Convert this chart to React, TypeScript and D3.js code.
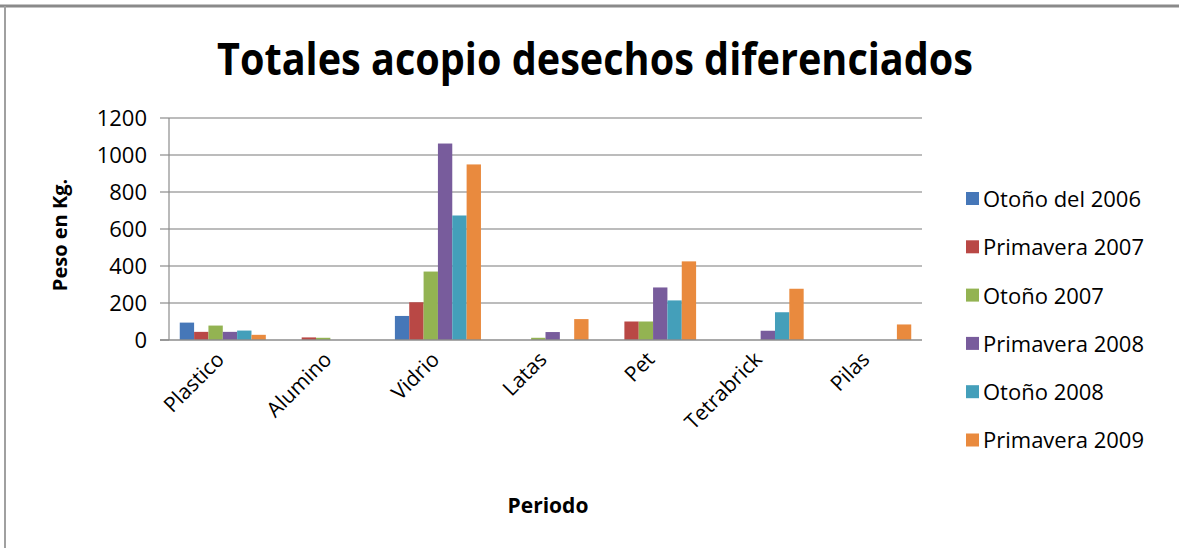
import React from 'react';
import * as d3 from 'd3';

// categorías (eje X)
const categories = ['Plastico', 'Alumino', 'Vidrio', 'Latas', 'Pet', 'Tetrabrick', 'Pilas'];

// series (kg)
const seriesNames = ['Otoño del 2006', 'Primavera 2007', 'Otoño 2007', 'Primavera 2008', 'Otoño 2008', 'Primavera 2009'];
const otono2006 = [94, 0, 130, 0, 0, 0, 0];
const primavera2007 = [44, 14, 204, 0, 100, 0, 0];
const otono2007 = [78, 12, 370, 12, 100, 0, 0];
const primavera2008 = [44, 0, 1062, 43, 284, 50, 0];
const otono2008 = [51, 0, 673, 0, 214, 150, 0];
const primavera2009 = [28, 0, 949, 113, 425, 277, 84];
const seriesValues = [otono2006, primavera2007, otono2007, primavera2008, otono2008, primavera2009];

const colors = ['#4677B8', '#B94845', '#93B352', '#785C9C', '#449FBA', '#E98A3E'];
const yTicks = [0, 200, 400, 600, 800, 1000, 1200];

const W = 1179;
const H = 548;
const plot = { left: 169, right: 922, top: 118, bottom: 340 };
const FONT = '"Open Sans", "Liberation Sans", sans-serif';

export default function App() {
  // ancho de grupo = 6 barras, hueco 150% (estilo Excel)
  const band = (plot.right - plot.left) / categories.length;
  const barW = band / (seriesNames.length + 1.5);
  const groupW = barW * seriesNames.length;

  const x0 = d3.scalePoint<string>()
    .domain(categories)
    .range([plot.left + band / 2, plot.right - band / 2]);
  const y = d3.scaleLinear().domain([0, 1200]).range([plot.bottom, plot.top]);

  const center = (c: string) => x0(c) as number;

  return (
    <svg width={W} height={H} style={{ position: 'absolute', left: 0, top: 0, background: '#fff' }}>
      {/* marco */}
      <line x1={0} x2={W} y1={6} y2={6} stroke="#8a8a8a" strokeWidth={3} />
      <line x1={5} x2={5} y1={6} y2={H} stroke="#a0a0a0" strokeWidth={2} />

      {/* título */}
      <text x={595} y={75} textAnchor="middle" fontFamily={FONT} fontWeight="bold" fontSize={44}
        textLength={756} lengthAdjust="spacingAndGlyphs" fill="#000">
        Totales acopio desechos diferenciados
      </text>

      {/* rejilla */}
      {yTicks.map(t => (
        <g key={t}>
          {t > 0 && <line x1={plot.left} x2={plot.right} y1={y(t)} y2={y(t)} stroke="#a6a6a6" strokeWidth={1.5} />}
          <line x1={160} x2={plot.left} y1={y(t)} y2={y(t)} stroke="#8c8c8c" strokeWidth={1.2} />
          <text x={147} y={y(t)} dy="0.36em" textAnchor="end" fontFamily={FONT} fontSize={22} fill="#000">
            {t}
          </text>
        </g>
      ))}

      {/* barras */}
      {seriesValues.map((vals, s) => (
        <g key={s}>
          {vals.map((v, i) => v > 0 && (
            <rect key={i}
              x={center(categories[i]) - groupW / 2 + s * barW}
              y={y(v)}
              width={barW}
              height={y(0) - y(v)}
              fill={colors[s]} />
          ))}
        </g>
      ))}

      {/* ejes */}
      <line x1={plot.left} x2={plot.left} y1={plot.top} y2={plot.bottom} stroke="#8c8c8c" strokeWidth={1.2} />
      <line x1={160} x2={plot.right} y1={plot.bottom} y2={plot.bottom} stroke="#8c8c8c" strokeWidth={1.5} />

      {/* etiquetas de categoría */}
      {categories.map(c => (
        <text key={c} transform={`translate(${center(c) - 8},${plot.bottom + 10}) rotate(-45)`}
          textAnchor="end" dy="0.72em" fontFamily={FONT} fontSize={21} fill="#000">
          {c}
        </text>
      ))}

      {/* títulos de ejes */}
      <text x={548} y={513} textAnchor="middle" fontFamily={FONT} fontWeight="bold" fontSize={21} fill="#000">
        Periodo
      </text>
      <text transform={`translate(67,${(plot.top + plot.bottom) / 2 + 6}) rotate(-90)`} textAnchor="middle"
        fontFamily={FONT} fontWeight="bold" fontSize={20} fill="#000">
        Peso en Kg.
      </text>

      {/* leyenda */}
      {seriesNames.map((n, s) => (
        <g key={n} transform={`translate(966,${199 + s * 48.3})`}>
          <rect x={0} y={-7} width={13} height={13} fill={colors[s]} />
          <text x={17} y={0} dy="0.36em" fontFamily={FONT} fontSize={22} fill="#000">{n}</text>
        </g>
      ))}
    </svg>
  );
}
